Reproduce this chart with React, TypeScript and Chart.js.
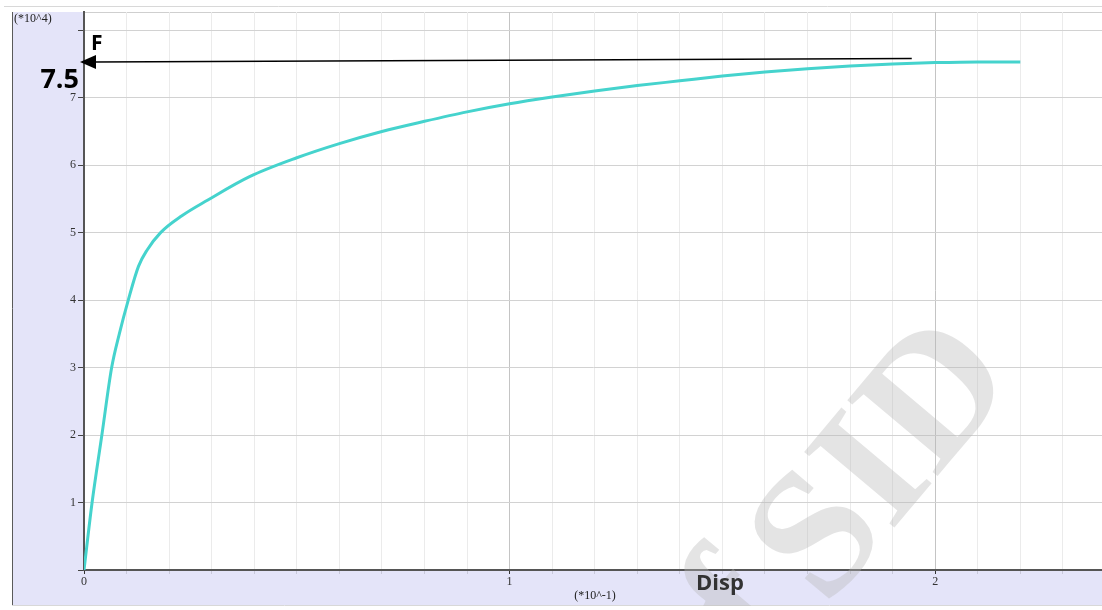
import React, { useEffect, useRef } from "react";
import { Chart, registerables } from "chart.js";

Chart.register(...registerables);

// Displacement (×10^-1) and force (×10^4)
const DISP = [0, 0.019, 0.042, 0.065, 0.083, 0.104, 0.128, 0.148, 0.18, 0.23, 0.29, 0.389, 0.5, 0.6, 0.7, 0.8, 0.9, 1.0, 1.1, 1.2, 1.3, 1.4, 1.5, 1.6, 1.7, 1.8, 1.9, 2.0, 2.1, 2.2];
const FORCE = [0, 1.0, 2.0, 3.0, 3.5, 4.0, 4.5, 4.74, 5.0, 5.25, 5.48, 5.83, 6.11, 6.32, 6.5, 6.65, 6.79, 6.91, 7.01, 7.1, 7.18, 7.25, 7.32, 7.38, 7.43, 7.47, 7.5, 7.52, 7.53, 7.53];

const X_TICK_LABELS = ["0", "1", "2"];
const Y_TICK_LABELS = ["1", "2", "3", "4", "5", "6", "7"];
const X_RANGE = [0, 2.392];
const Y_RANGE = [0, 8.27];

// Annotation arrow (data coordinates): from the plateau back to the force axis
const ARROW_FROM = { x: 1.945, y: 7.58 };
const ARROW_TO = { x: 0, y: 7.53 };
const PEAK_LABEL = "7.5";
const FORCE_LABEL = "F";
const DISP_LABEL = "Disp";
const Y_UNIT = "(*10^4)";
const X_UNIT = "(*10^-1)";

const isInt = (v: number) => Math.abs(v - Math.round(v)) < 1e-6;

export default function App() {
  const ref = useRef<HTMLCanvasElement | null>(null);

  useEffect(() => {
    const canvas = ref.current;
    if (!canvas) return;

    const frame = {
      id: "frame",
      beforeDraw(chart: any) {
        const { ctx, chartArea: a, width, height } = chart;
        ctx.save();
        ctx.fillStyle = "#ffffff";
        ctx.fillRect(0, 0, width, height);
        ctx.fillStyle = "#e4e4f9";
        ctx.fillRect(12, 12, width - 12, 593);
        ctx.fillStyle = "#ffffff";
        ctx.fillRect(a.left, a.top, a.right - a.left, a.bottom - a.top);
        ctx.lineWidth = 1;
        ctx.strokeStyle = "#d8d8d8";
        ctx.beginPath();
        ctx.moveTo(4, 6.5);
        ctx.lineTo(width, 6.5);
        ctx.moveTo(12, 605.5);
        ctx.lineTo(width, 605.5);
        ctx.stroke();
        ctx.strokeStyle = "#cfcfcf";
        ctx.beginPath();
        ctx.moveTo(a.left, 12.5);
        ctx.lineTo(width, 12.5);
        ctx.stroke();
        ctx.strokeStyle = "#5a5a5a";
        ctx.beginPath();
        ctx.moveTo(12.5, 12);
        ctx.lineTo(12.5, 605);
        ctx.stroke();
        ctx.restore();
      },
      afterDraw(chart: any) {
        const { ctx } = chart;
        const xs = chart.scales.x;
        const ys = chart.scales.y;
        ctx.save();

        // Watermark
        ctx.fillStyle = "rgba(185,185,185,0.38)";
        ctx.font = "bold 180px 'Liberation Serif'";
        ctx.textAlign = "center";
        ctx.textBaseline = "middle";
        ctx.save();
        ctx.translate(887, 464);
        ctx.rotate((-50 * Math.PI) / 180);
        ctx.fillText("SID", 0, 0);
        ctx.restore();
        ctx.save();
        ctx.beginPath();
        ctx.rect(0, 0, chart.width, 606);
        ctx.clip();
        ctx.translate(744, 612);
        ctx.rotate((-50 * Math.PI) / 180);
        ctx.fillText("f", 0, 0);
        ctx.restore();

        // Arrow
        const x1 = xs.getPixelForValue(ARROW_FROM.x);
        const y1 = ys.getPixelForValue(ARROW_FROM.y);
        const tipX = xs.getPixelForValue(ARROW_TO.x) - 4;
        const tipY = ys.getPixelForValue(ARROW_TO.y);
        ctx.strokeStyle = "#000";
        ctx.lineWidth = 1.5;
        ctx.beginPath();
        ctx.moveTo(x1, y1);
        ctx.lineTo(tipX + 14, tipY);
        ctx.stroke();
        ctx.fillStyle = "#000";
        ctx.beginPath();
        ctx.moveTo(tipX, tipY);
        ctx.lineTo(tipX + 16, tipY - 7);
        ctx.lineTo(tipX + 16, tipY + 7);
        ctx.closePath();
        ctx.fill();

        // Bold labels
        ctx.fillStyle = "#000";
        ctx.font = "bold 21px 'Open Sans'";
        ctx.textAlign = "left";
        ctx.textBaseline = "alphabetic";
        ctx.fillText(FORCE_LABEL, 91, 50);
        ctx.font = "bold 27px 'Open Sans'";
        ctx.textAlign = "right";
        ctx.fillText(PEAK_LABEL, 79, 88);
        ctx.fillStyle = "#333";
        ctx.font = "bold 22px 'Open Sans'";
        ctx.textAlign = "left";
        ctx.fillText(DISP_LABEL, 696, 590);

        // Unit labels
        ctx.fillStyle = "#222";
        ctx.font = "12px 'Liberation Serif'";
        ctx.textAlign = "left";
        ctx.fillText(Y_UNIT, 14, 22);
        ctx.textAlign = "center";
        ctx.fillText(X_UNIT, 595, 599);

        ctx.restore();
      },
    };

    const chart = new Chart(canvas, {
      type: "scatter",
      data: {
        datasets: [
          {
            data: DISP.map((x, i) => ({ x, y: FORCE[i] })),
            showLine: true,
            borderColor: "#45d3cd",
            borderWidth: 3,
            pointRadius: 0,
            cubicInterpolationMode: "monotone",
            fill: false,
          },
        ],
      },
      options: {
        responsive: false,
        animation: false,
        events: [],
        layout: { padding: { left: 12, top: 12, right: 0, bottom: 4 } },
        plugins: { legend: { display: false }, tooltip: { enabled: false } },
        scales: {
          x: {
            type: "linear",
            min: X_RANGE[0],
            max: X_RANGE[1],
            afterFit: (s: any) => {
              s.height = 36;
            },
            ticks: {
              stepSize: 0.1,
              autoSkip: false,
              includeBounds: false,
              maxRotation: 0,
              padding: 1,
              color: "#333",
              font: { family: "'Liberation Serif'", size: 12 },
              callback: (v: any) => {
                const n = Number(v);
                if (!isInt(n)) return "";
                const s = String(Math.round(n));
                return X_TICK_LABELS.includes(s) ? s : "";
              },
            },
            grid: {
              color: (c: any) => (c.tick && isInt(c.tick.value) ? "#c4c4c4" : "#ebebeb"),
              lineWidth: 1,
              tickLength: 4,
              tickColor: (c: any) => (c.tick && isInt(c.tick.value) ? "#333" : "rgba(0,0,0,0.12)"),
            },
            border: { display: true, color: "#555", width: 2 },
          },
          y: {
            type: "linear",
            min: Y_RANGE[0],
            max: Y_RANGE[1],
            afterFit: (s: any) => {
              s.width = 72;
            },
            ticks: {
              stepSize: 1,
              includeBounds: false,
              padding: 2,
              color: "#333",
              font: { family: "'Liberation Serif'", size: 12 },
              callback: (v: any) => {
                const s = String(Math.round(Number(v)));
                return Y_TICK_LABELS.includes(s) ? s : "";
              },
            },
            grid: {
              color: "#d2d2d2",
              lineWidth: 1,
              tickLength: 6,
              tickColor: "#444",
            },
            border: { display: true, color: "#555", width: 2 },
          },
        },
      },
      plugins: [frame],
    } as any);

    return () => chart.destroy();
  }, []);

  return (
    <div style={{ position: "fixed", left: 0, top: 0, width: 1102, height: 610 }}>
      <canvas ref={ref} width={1102} height={610} style={{ display: "block" }} />
    </div>
  );
}
